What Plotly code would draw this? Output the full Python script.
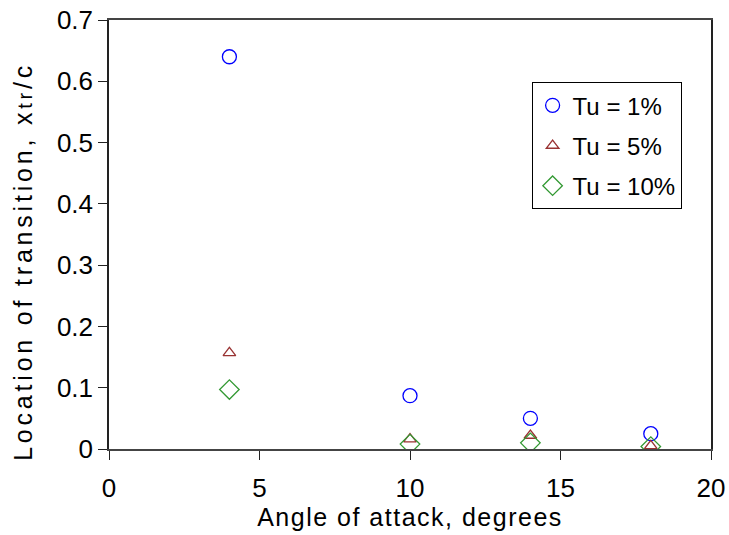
import plotly.graph_objects as go

angles = [4, 10, 14, 18]
tu1 = [0.640, 0.087, 0.050, 0.025]
tu5 = [0.157, 0.016, 0.022, 0.005]
tu10 = [0.097, 0.008, 0.010, 0.004]
names = ["Tu = 1%", "Tu = 5%", "Tu = 10%"]

fig = go.Figure()
series = [
    (tu1, "circle-open", 14, "#0000FF"),
    (tu5, "triangle-up-open", 11, "#993333"),
    (tu10, "diamond-open", 15, "#339933"),
]
for i, (vals, sym, sz, col) in enumerate(series):
    fig.add_trace(go.Scatter(
        x=angles, y=vals, mode="markers", name=names[i],
        legendgroup=f"g{i}",
        marker=dict(symbol=sym, size=sz, color=col, line=dict(width=1.3, color=col)),
    ))

font = "Liberation Sans, Arial, sans-serif"
pad = "\u00a0" * 5
fig.update_layout(
    width=729, height=535,
    margin=dict(l=109, r=18, t=20, b=86),
    paper_bgcolor="white", plot_bgcolor="white",
    font=dict(family=font, size=25, color="black"),
    showlegend=True,
    legend=dict(
        x=0.702, y=0.855, xanchor="left", yanchor="top",
        bordercolor="black", borderwidth=1, bgcolor="white",
        font=dict(size=24), tracegroupgap=6, traceorder="grouped",
        itemwidth=30,
    ),
    xaxis=dict(
        range=[0, 20], tickvals=[0, 5, 10, 15, 20],
        showgrid=False, zeroline=False, automargin=False,
        showline=True, linecolor="#444", linewidth=1.5, mirror=True,
        ticks="outside", ticklen=9, tickcolor="#222", ticklabelstandoff=6,
        title=dict(text="<span style='letter-spacing:1.5px'>Angle of attack, degrees</span>",
                   font=dict(size=25), standoff=2),
        tickfont=dict(size=26),
    ),
    yaxis=dict(
        range=[0, 0.7], tickvals=[0, 0.1, 0.2, 0.3, 0.4, 0.5, 0.6, 0.7],
        ticktext=["0", "0.1", "0.2", "0.3", "0.4", "0.5", "0.6", "0.7"],
        showgrid=False, zeroline=False, automargin=False,
        showline=True, linecolor="#222", linewidth=1.5, mirror=True,
        ticks="outside", ticklen=9, tickcolor="#222",
        title=dict(text="<span style='letter-spacing:3.8px'>Location of transition, x<span style='font-size:20px'>tr</span>/c" + pad + "</span>",
                   font=dict(size=25), standoff=17),
        tickfont=dict(size=26),
    ),
)

fig.write_html("out.html", config={"displayModeBar": False},
               post_script="document.body.style.margin='0px';")
